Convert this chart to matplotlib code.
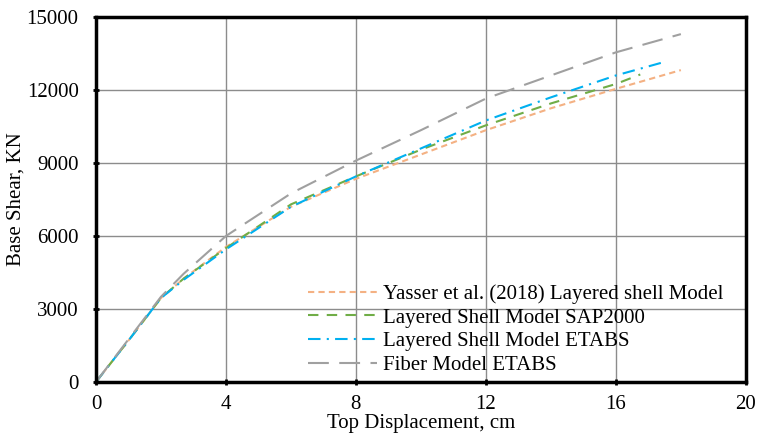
import matplotlib.pyplot as plt

# pushover curves: top displacement (cm) vs base shear (kN)
x_yasser = [0, 1, 2, 2.7, 4, 6, 8, 10, 12, 14, 16, 18]
v_yasser = [0, 1700, 3450, 4250, 5550, 7200, 8350, 9350, 10350, 11250, 12050, 12820]

x_sap = [0, 1, 2, 2.7, 4, 6, 8, 10, 12, 14, 16, 16.75]
v_sap = [0, 1700, 3450, 4250, 5500, 7300, 8450, 9550, 10550, 11450, 12250, 12640]

x_etabs = [0, 1, 2, 2.7, 4, 6, 8, 10, 12, 14, 16, 17.45]
v_etabs = [0, 1700, 3450, 4200, 5450, 7200, 8450, 9600, 10750, 11700, 12600, 13140]

x_fiber = [0, 1, 2, 2.7, 4, 6, 8, 10, 12, 14, 16, 18]
v_fiber = [0, 1750, 3500, 4450, 6000, 7750, 9100, 10350, 11650, 12600, 13550, 14300]

labels = ['Yasser et al. (2018) Layered shell Model', 'Layered Shell Model SAP2000',
          'Layered Shell Model ETABS', 'Fiber Model ETABS']
xticks = [0, 4, 8, 12, 16, 20]
yticks = [0, 3000, 6000, 9000, 12000, 15000]

plt.rcParams['font.family'] = ['Liberation Serif', 'DejaVu Serif']

fig, ax = plt.subplots(figsize=(7.58, 4.38), dpi=100)
fig.subplots_adjust(left=0.1266, right=0.984, bottom=0.128, top=0.961)

ax.plot(x_yasser, v_yasser, color='#F4B183', lw=1.5, dashes=(3, 2), label=labels[0])
ax.plot(x_sap, v_sap, color='#70AD47', lw=1.5, dashes=(5, 4), label=labels[1])
ax.plot(x_etabs, v_etabs, color='#00B0F0', lw=1.5, dashes=(6, 3, 1, 3), label=labels[2])
ax.plot(x_fiber, v_fiber, color='#A0A0A0', lw=1.5, dashes=(10, 5), label=labels[3])

ax.set_xlim(0, 20)
ax.set_ylim(0, 15000)
ax.set_xticks(xticks)
ax.set_yticks(yticks)
ax.grid(True, color='#8c8c8c', lw=1)
ax.set_axisbelow(True)
for s in ax.spines.values():
    s.set_linewidth(2.5)
ax.tick_params(direction='inout', length=5, width=2, labelsize=15)
ax.tick_params(axis='y', pad=10)
ax.tick_params(axis='x', pad=7)

ax.set_xlabel('Top Displacement, cm', fontsize=15, labelpad=0)
ax.set_ylabel('Base Shear, KN', fontsize=15, labelpad=1)

ax.legend(loc='upper left', bbox_to_anchor=(0.326, 0.268), frameon=False, fontsize=15,
          handlelength=3.3, handletextpad=0.3, labelspacing=0.2, borderpad=0, borderaxespad=0)

plt.savefig('out.png', dpi=100)
